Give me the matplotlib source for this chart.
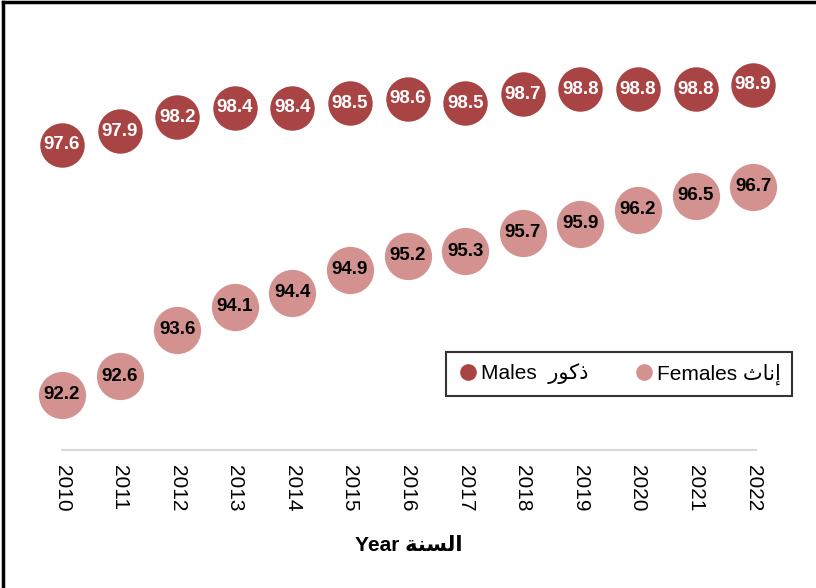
import matplotlib
matplotlib.use("Agg")
import matplotlib.pyplot as plt
from matplotlib.lines import Line2D

plt.rcParams['font.family'] = ['Liberation Sans', 'DejaVu Sans']

years = ['2010', '2011', '2012', '2013', '2014', '2015', '2016',
         '2017', '2018', '2019', '2020', '2021', '2022']
males = [97.6, 97.9, 98.2, 98.4, 98.4, 98.5, 98.6, 98.5, 98.7, 98.8, 98.8, 98.8, 98.9]
females = [92.2, 92.6, 93.6, 94.1, 94.4, 94.9, 95.2, 95.3, 95.7, 95.9, 96.2, 96.5, 96.7]

# arabic written with presentation forms in visual order (no shaping in mpl)
ar_males = "\uFEAD\uFEEE\uFEDB\uFEAB"          # ذكور
ar_females = "\uFE99\uFE8E\uFEE7\uFE87"        # إناث
ar_year = "\uFE94\uFEE8\uFEB4\uFEDF\uFE8D"     # السنة

male_col = '#A84444'
female_col = '#D39190'


def main():
    fig = plt.figure(figsize=(8.16, 5.88), dpi=100)
    ax = fig.add_axes([62 / 816, 1 - 450 / 588, (756 - 62) / 816, (450 - 34) / 588])

    x = list(range(len(years)))
    ax.plot(x, males, 'o', ms=32, color=male_col, mec='none', clip_on=False, zorder=3)
    ax.plot(x, females, 'o', ms=34, color=female_col, mec='none', clip_on=False, zorder=3)
    for i in x:
        ax.text(i, males[i], f"{males[i]:.1f}", ha='center', va='center',
                color='white', fontsize=13.5, fontweight='bold', zorder=4)
        ax.text(i, females[i], f"{females[i]:.1f}", ha='center', va='center',
                color='black', fontsize=13.5, fontweight='bold', zorder=4)

    ax.set_xlim(0, 12.05)
    ax.set_ylim(91, 100)
    ax.set_xticks(x)
    ax.set_xticklabels(years, rotation=270, fontsize=15)
    ax.tick_params(axis='x', length=0, pad=11)
    ax.set_yticks([])
    for s in ['top', 'right', 'left']:
        ax.spines[s].set_visible(False)
    ax.spines['bottom'].set_color('#D9D9D9')
    ax.spines['bottom'].set_linewidth(1.5)

    ax.set_xlabel("Year " + ar_year, fontsize=15, fontweight='bold', labelpad=17)

    handles = [
        Line2D([], [], marker='o', ls='none', ms=12, color=male_col, mec='none'),
        Line2D([], [], marker='o', ls='none', ms=12, color=female_col, mec='none'),
    ]
    leg = fig.legend(handles, ["Males  " + ar_males, "Females " + ar_females],
                     loc='center', bbox_to_anchor=(0.759, 0.364), ncol=2,
                     fontsize=15, frameon=True, fancybox=False, handletextpad=0.1,
                     columnspacing=2.2, borderpad=0.55, handlelength=1.0)
    leg.get_frame().set_edgecolor('black')
    leg.get_frame().set_linewidth(1.5)

    # outer border (top and left visible)
    fig.add_artist(Line2D([0.004, 1.0], [0.996, 0.996], color='black', lw=2.5,
                          transform=fig.transFigure))
    fig.add_artist(Line2D([0.004, 0.004], [0.0, 0.996], color='black', lw=2.5,
                          transform=fig.transFigure))

    fig.savefig('out.png', dpi=100)


if __name__ == '__main__':
    main()
